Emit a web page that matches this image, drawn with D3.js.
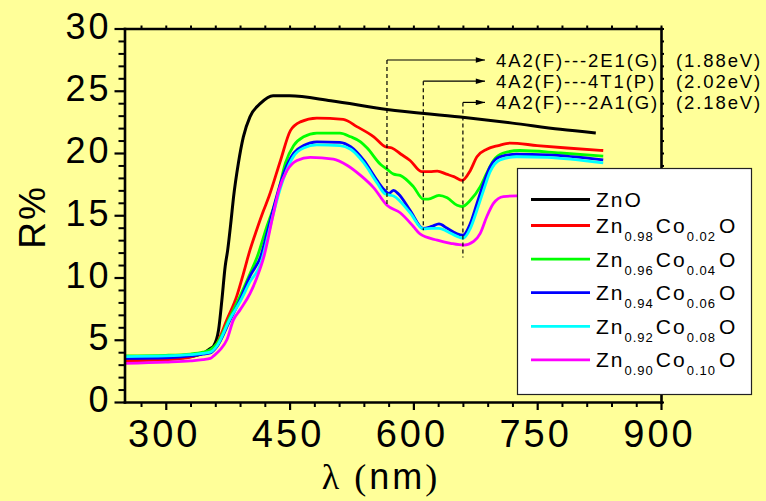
<!DOCTYPE html>
<html>
<head>
<meta charset="utf-8">
<script src="https://cdn.jsdelivr.net/npm/d3@7"></script>
<style>
  html, body { margin: 0; padding: 0; background: #FFFF99; }
  svg { display: block; }
  text { font-family: "Liberation Sans", Arial, sans-serif; fill: #000; }
</style>
</head>
<body>
<svg id="chart" width="766" height="501"></svg>
<script>
// ---- Reflectance spectra, R% versus wavelength (nm) ----
const znoNm = [250, 280, 320, 345, 354, 358, 364, 368, 372, 375, 379, 382, 388, 394, 402, 415, 430, 450, 500, 568, 657, 720, 778, 821];
const znoR  = [3.35, 3.4, 3.55, 3.9, 4.3, 4.5, 5.8, 8.2, 10.9, 12.2, 14.5, 16.4, 19.2, 21.3, 22.9, 24.0, 24.6, 24.6, 24.2, 23.5, 22.9, 22.4, 21.9, 21.6];

const co02Nm = [250, 300, 330, 345, 354, 362, 374, 386, 394, 402, 410, 418, 425, 439, 451, 463, 483, 515, 532, 552, 566, 574, 585, 596, 610, 620, 629, 640, 649, 659, 669, 677, 689, 703, 717, 750, 786, 830];
const co02R  = [3.3, 3.4, 3.6, 3.9, 4.0, 4.7, 6.6, 8.5, 10.3, 12.2, 13.8, 15.3, 16.5, 19.4, 21.8, 22.5, 22.8, 22.7, 22.1, 21.3, 20.5, 20.4, 19.9, 19.4, 18.5, 18.5, 18.55, 18.3, 18.1, 17.8, 18.6, 19.7, 20.3, 20.6, 20.8, 20.6, 20.4, 20.2];

const co04Nm = [250, 300, 330, 345, 354, 362, 378, 390, 402, 411, 422, 435, 445, 455, 467, 483, 511, 524, 536, 544, 560, 568, 576, 584, 600, 612, 618, 631, 641, 653, 659, 669, 681, 689, 697, 709, 729, 778, 830];
const co04R  = [3.7, 3.75, 3.85, 4.0, 4.2, 4.7, 6.85, 8.5, 10.3, 11.7, 14.0, 16.5, 19.2, 20.6, 21.3, 21.6, 21.6, 21.3, 20.9, 20.4, 19.1, 18.7, 18.3, 18.2, 17.3, 16.3, 16.3, 16.6, 16.4, 15.8, 15.7, 16.2, 17.3, 18.4, 19.4, 20.0, 20.2, 20.0, 19.75];

const co06Nm = [250, 300, 330, 345, 354, 362, 378, 390, 402, 415, 424, 433, 443, 455, 467, 483, 511, 524, 540, 556, 564, 570, 576, 582, 596, 612, 622, 631, 641, 653, 660, 669, 677, 685, 693, 705, 725, 762, 830];
const co06R  = [3.5, 3.55, 3.7, 3.85, 3.95, 4.45, 6.6, 8.2, 10.1, 11.7, 13.9, 16.2, 18.4, 20.0, 20.6, 20.9, 20.85, 20.5, 19.4, 17.8, 17.1, 16.75, 17.0, 16.7, 15.4, 13.95, 14.1, 14.3, 13.95, 13.5, 13.4, 14.35, 15.95, 17.55, 18.9, 19.7, 19.9, 19.85, 19.45];

const co08Nm = [250, 300, 330, 345, 354, 362, 378, 390, 402, 415, 424, 433, 443, 455, 467, 483, 511, 524, 540, 556, 566, 576, 596, 612, 622, 631, 641, 653, 660, 669, 677, 685, 693, 705, 725, 762, 830];
const co08R  = [3.65, 3.7, 3.8, 3.9, 4.0, 4.5, 6.7, 8.05, 9.65, 11.1, 13.4, 15.8, 18.0, 19.75, 20.4, 20.65, 20.6, 20.3, 19.2, 17.6, 16.7, 16.55, 15.2, 13.9, 13.95, 13.95, 13.7, 13.3, 13.15, 13.95, 15.4, 17.0, 18.5, 19.45, 19.7, 19.65, 19.2];

const co10Nm = [250, 300, 330, 345, 354, 358, 366, 374, 382, 390, 402, 411, 419, 430, 437, 447, 459, 475, 503, 520, 536, 552, 568, 584, 600, 608, 629, 645, 661, 673, 681, 689, 697, 709, 725, 760, 830];
const co10R  = [3.1, 3.2, 3.3, 3.4, 3.5, 3.7, 4.2, 5.0, 6.6, 7.4, 8.7, 10.1, 11.7, 15.0, 17.0, 18.6, 19.4, 19.65, 19.5, 19.0, 18.2, 17.2, 15.8, 15.2, 14.1, 13.5, 13.0, 12.75, 12.6, 12.9, 13.55, 14.9, 15.95, 16.5, 16.55, 16.5, 16.3];

const seriesColors = ["#000000", "#FF0000", "#00FF00", "#0000FF", "#00FFFF", "#FF00FF"];
const legendZnSub = ["", "0.98", "0.96", "0.94", "0.92", "0.90"];
const legendCoSub = ["", "0.02", "0.04", "0.06", "0.08", "0.10"];

// ---- Axis ticks ----
const nmMajorTicks = [300, 450, 600, 750, 900];
const rMajorTicks = [0, 5, 10, 15, 20, 25, 30];

// ---- d-d transitions of Co2+ (marked wavelength, lower end of marker in R%) ----
const transLabels = ["4A2(F)---2E1(G)", "4A2(F)---4T1(P)", "4A2(F)---2A1(G)"];
const transEnergies = ["(1.88eV)", "(2.02eV)", "(2.18eV)"];
const transNm = [568, 612, 660];
const transLowR = [15.7, 13.8, 11.6];

const svg = d3.select("#chart");
const x = d3.scaleLinear().domain([250, 900]).range([124.5, 661]);
const y = d3.scaleLinear().domain([0, 30]).range([402, 28.5]);

const series = [
  [znoNm, znoR], [co02Nm, co02R], [co04Nm, co04R],
  [co06Nm, co06R], [co08Nm, co08R], [co10Nm, co10R]
].map(([nm, r], i) => ({ color: seriesColors[i], pts: nm.map((v, k) => [v, r[k]]) }));

// ---- Curves ----
const line = d3.line().x(d => x(d[0])).y(d => y(d[1])).curve(d3.curveMonotoneX);
svg.append("g").selectAll("path").data(series).join("path")
  .attr("d", d => line(d.pts))
  .attr("fill", "none")
  .attr("stroke", d => d.color)
  .attr("stroke-width", (d, i) => i === 0 ? 3 : 2.8)
  .attr("stroke-linejoin", "round");

// ---- Axes ----
const nmMinor = d3.range(270, 900, 30).filter(v => !nmMajorTicks.includes(v));
const rMinor = d3.range(0, 31, 1).filter(v => !rMajorTicks.includes(v));

function styleAxis(g, w) {
  g.select(".domain").attr("stroke", "#000").attr("stroke-width", 2.6).attr("stroke-linecap", "square");
  g.selectAll(".tick line").attr("stroke", "#000").attr("stroke-width", w);
}

// bottom
const gxMinor = svg.append("g").attr("transform", `translate(0,${y(0)})`)
  .call(d3.axisBottom(x).tickValues(nmMinor).tickSize(5).tickSizeOuter(0).tickFormat(""));
gxMinor.select(".domain").remove();
gxMinor.selectAll(".tick line").attr("stroke", "#000").attr("stroke-width", 2);

const gx = svg.append("g").attr("transform", `translate(0,${y(0)})`)
  .call(d3.axisBottom(x).tickValues(nmMajorTicks).tickSize(8).tickSizeOuter(0).tickFormat(d3.format("d")));
styleAxis(gx, 2.2);
gx.selectAll(".tick text")
  .attr("y", 45).attr("dy", 0).attr("dx", -2)
  .style("font-size", "38px").style("letter-spacing", "3px");

// left
const gyMinor = svg.append("g").attr("transform", `translate(${x(250)},0)`)
  .call(d3.axisLeft(y).tickValues(rMinor).tickSize(6).tickSizeOuter(0).tickFormat(""));
gyMinor.select(".domain").remove();
gyMinor.selectAll(".tick line").attr("stroke", "#000").attr("stroke-width", 2);

const gy = svg.append("g").attr("transform", `translate(${x(250)},0)`)
  .call(d3.axisLeft(y).tickValues(rMajorTicks).tickSize(10).tickPadding(3).tickSizeOuter(0).tickFormat(d3.format("d")));
styleAxis(gy, 2.2);
gy.selectAll(".tick text")
  .attr("dy", 9.9)
  .style("font-size", "36px").style("letter-spacing", "3px");

// top and right frame with short ticks
const gt = svg.append("g").attr("transform", `translate(0,${y(30)})`)
  .call(d3.axisTop(x).tickValues(nmMajorTicks.concat(nmMinor)).tickSize(3).tickSizeOuter(0).tickFormat(""));
styleAxis(gt, 2);
const gr = svg.append("g").attr("transform", `translate(${x(900)},0)`)
  .call(d3.axisRight(y).tickValues(rMajorTicks.concat(rMinor)).tickSize(3).tickSizeOuter(0).tickFormat(""));
styleAxis(gr, 2);

// axis titles
svg.append("text")
  .attr("transform", "translate(45,217) rotate(-90)")
  .attr("text-anchor", "middle")
  .style("font-size", "37px").style("letter-spacing", "2px")
  .text("R%");

const xt = svg.append("text")
  .attr("x", 381).attr("y", 489)
  .attr("text-anchor", "middle")
  .style("font-size", "36px").style("letter-spacing", "3px");
xt.append("tspan").style("font-family", "'Liberation Serif', 'Times New Roman', serif").text("λ (");
xt.append("tspan").style("letter-spacing", "3px").text("nm");
xt.append("tspan").style("font-family", "'Liberation Serif', 'Times New Roman', serif").text(")");

// ---- Transition markers ----
const defs = svg.append("defs");
defs.append("marker")
  .attr("id", "arrowHead")
  .attr("viewBox", "0 0 10 6")
  .attr("refX", 10).attr("refY", 3)
  .attr("markerWidth", 10).attr("markerHeight", 5.5)
  .attr("markerUnits", "userSpaceOnUse")
  .attr("orient", "auto")
  .append("path").attr("d", "M0,0L10,3L0,6Z").attr("fill", "#000");

const arrowEndX = 485;
const rowY = i => 60 + i * 21.2;
const trans = svg.append("g");
transNm.forEach((nm, i) => {
  trans.append("line")
    .attr("x1", x(nm)).attr("x2", x(nm))
    .attr("y1", rowY(i)).attr("y2", y(transLowR[i]))
    .attr("stroke", "#000").attr("stroke-width", 1.2)
    .attr("stroke-dasharray", "4,3");
  trans.append("line")
    .attr("x1", x(nm)).attr("x2", arrowEndX)
    .attr("y1", rowY(i)).attr("y2", rowY(i))
    .attr("stroke", "#000").attr("stroke-width", 1.2)
    .attr("marker-end", "url(#arrowHead)");
  trans.append("text")
    .attr("x", 496).attr("y", rowY(i) + 6.8)
    .style("font-size", "18.5px").style("letter-spacing", "1.9px")
    .text(transLabels[i]);
  trans.append("text")
    .attr("x", 676).attr("y", rowY(i) + 6.8)
    .style("font-size", "18.5px").style("letter-spacing", "1.9px")
    .text(transEnergies[i]);
});

// ---- Legend ----
const lg = svg.append("g");
lg.append("rect")
  .attr("x", 517.5).attr("y", 168.5).attr("width", 234).attr("height", 226)
  .attr("fill", "#FFFFFF").attr("stroke", "#222").attr("stroke-width", 1.2);

const legendRowY = i => i === 0 ? 199.5 : 225.5 + (i - 1) * 33.6;
series.forEach((s, i) => {
  const ry = legendRowY(i);
  lg.append("line")
    .attr("x1", 531).attr("x2", 590).attr("y1", ry).attr("y2", ry)
    .attr("stroke", s.color).attr("stroke-width", i === 0 ? 3 : 2.8);
  const t = lg.append("text")
    .attr("x", 596).attr("y", ry + 7.5)
    .style("font-size", "21px").style("letter-spacing", "2px");
  if (i === 0) {
    t.text("ZnO");
  } else {
    t.append("tspan").text("Zn");
    t.append("tspan").attr("dy", 8).style("font-size", "13px").style("letter-spacing", "1px").text(legendZnSub[i]);
    t.append("tspan").attr("dy", -8).attr("dx", 2).text("Co");
    t.append("tspan").attr("dy", 8).style("font-size", "13px").style("letter-spacing", "1px").text(legendCoSub[i]);
    t.append("tspan").attr("dy", -8).attr("dx", 3).text("O");
  }
});
</script>
</body>
</html>
